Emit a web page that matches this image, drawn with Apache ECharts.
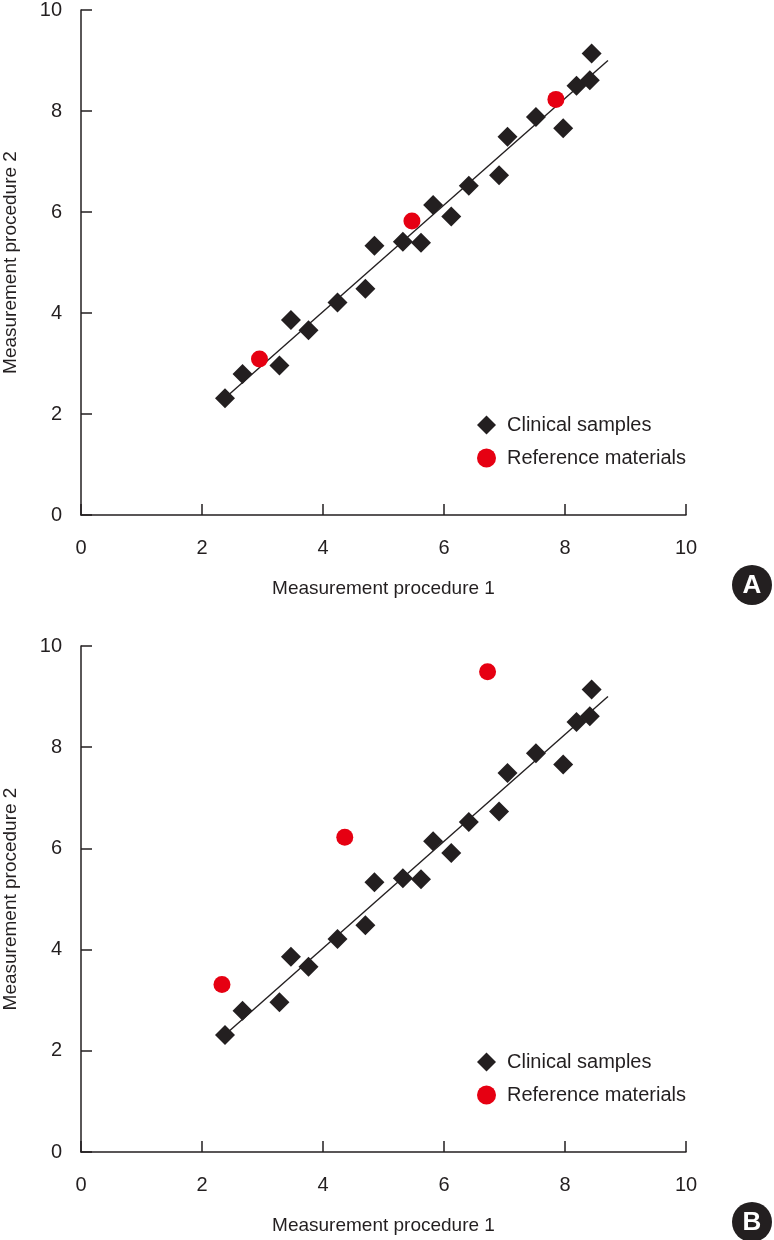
<!DOCTYPE html>
<html>
<head>
<meta charset="utf-8">
<script src="https://cdn.jsdelivr.net/npm/echarts@6/dist/echarts.min.js"></script>
<style>
html,body{margin:0;padding:0;background:#fff;}
#chart{width:774px;height:1240px;}
</style>
</head>
<body>
<div id="chart"></div>
<script>
// ---- data ----
const clinicalX = [2.38, 2.67, 3.28, 3.47, 3.76, 4.24, 4.70, 4.85, 5.32, 5.62, 5.82, 6.12, 6.41, 6.91, 7.05, 7.52, 7.97, 8.19, 8.41, 8.44];
const clinicalY = [2.31, 2.79, 2.96, 3.86, 3.66, 4.21, 4.48, 5.33, 5.41, 5.39, 6.14, 5.91, 6.52, 6.73, 7.49, 7.88, 7.66, 8.50, 8.61, 9.14];
const refAX = [2.95, 5.47, 7.85];
const refAY = [3.09, 5.82, 8.23];
const refBX = [2.33, 4.36, 6.72];
const refBY = [3.31, 6.22, 9.49];
const fitX = [2.46, 8.71];
const fitY = [2.40, 9.00];
const axisTicks = [0, 2, 4, 6, 8, 10];
const xTitle = 'Measurement procedure 1';
const yTitle = 'Measurement procedure 2';
const seriesNames = ['Clinical samples', 'Reference materials'];
const panelLetters = ['A', 'B'];

// ---- style ----
const INK = '#231f20';
const RED = '#e60012';
const FONT = "'Liberation Sans', Arial, sans-serif";

const zip = (xs, ys) => xs.map((x, i) => [x, ys[i]]);

function makeX(gridIndex) {
  return {
    gridIndex, type: 'value', min: axisTicks[0], max: axisTicks[axisTicks.length - 1], interval: 2,
    name: xTitle, nameLocation: 'middle', nameGap: 64,
    nameTextStyle: { fontFamily: FONT, fontSize: 19, color: INK },
    axisLine: { show: true, onZero: false, lineStyle: { color: INK, width: 1.5 } },
    axisTick: { show: true, inside: true, length: 11, lineStyle: { color: INK, width: 1.5 } },
    axisLabel: { fontFamily: FONT, fontSize: 20, color: INK, margin: 23 },
    splitLine: { show: false }
  };
}
function makeY(gridIndex) {
  return {
    gridIndex, type: 'value', min: axisTicks[0], max: axisTicks[axisTicks.length - 1], interval: 2,
    name: yTitle, nameLocation: 'middle', nameGap: 61,
    nameTextStyle: { fontFamily: FONT, fontSize: 19, color: INK },
    axisLine: { show: true, onZero: false, lineStyle: { color: INK, width: 1.5 } },
    axisTick: { show: true, inside: true, length: 11, lineStyle: { color: INK, width: 1.5 } },
    axisLabel: { fontFamily: FONT, fontSize: 20, color: INK, margin: 19 },
    splitLine: { show: false }
  };
}
function makeSeries(idx, refX, refY) {
  return [
    { name: 'fit', type: 'line', xAxisIndex: idx, yAxisIndex: idx, data: zip(fitX, fitY),
      symbol: 'none', lineStyle: { color: INK, width: 1.4 }, silent: true, z: 1 },
    { name: seriesNames[0], type: 'scatter', xAxisIndex: idx, yAxisIndex: idx, data: zip(clinicalX, clinicalY),
      symbol: 'diamond', symbolSize: 20, itemStyle: { color: INK, opacity: 1 }, z: 2 },
    { name: seriesNames[1], type: 'scatter', xAxisIndex: idx, yAxisIndex: idx, data: zip(refX, refY),
      symbol: 'circle', symbolSize: 17, itemStyle: { color: RED, opacity: 1 }, z: 3 }
  ];
}
function makeLegend(top) {
  return {
    orient: 'vertical', left: 477, top: top, itemWidth: 19, itemHeight: 19, itemGap: 13,
    selectedMode: false, padding: 0,
    textStyle: { fontFamily: FONT, fontSize: 20, color: INK, padding: [0, 0, 0, 6] },
    data: [
      { name: seriesNames[0], icon: 'diamond', itemStyle: { color: INK } },
      { name: seriesNames[1], icon: 'circle', itemStyle: { color: RED } }
    ]
  };
}
function letter(cx, cy, txt) {
  return {
    type: 'group', x: cx, y: cy, children: [
      { type: 'circle', shape: { cx: 0, cy: 0, r: 20 }, style: { fill: INK } },
      { type: 'text', x: 0, y: 1, style: { text: txt, fill: '#fff', font: "bold 26px 'Liberation Sans', Arial, sans-serif", align: 'center', verticalAlign: 'middle' } }
    ]
  };
}

const chart = echarts.init(document.getElementById('chart'), null, { renderer: 'canvas' });
chart.setOption({
  backgroundColor: '#fff',
  animation: false,
  grid: [
    { left: 81, top: 10, width: 605, height: 505, outerBoundsMode: 'none', containLabel: false },
    { left: 81, top: 646, width: 605, height: 506, outerBoundsMode: 'none', containLabel: false }
  ],
  xAxis: [makeX(0), makeX(1)],
  yAxis: [makeY(0), makeY(1)],
  legend: [makeLegend(415), makeLegend(1052)],
  series: [...makeSeries(0, refAX, refAY), ...makeSeries(1, refBX, refBY)],
  graphic: [letter(752, 585, panelLetters[0]), letter(752, 1222, panelLetters[1])]
});
</script>
</body>
</html>
